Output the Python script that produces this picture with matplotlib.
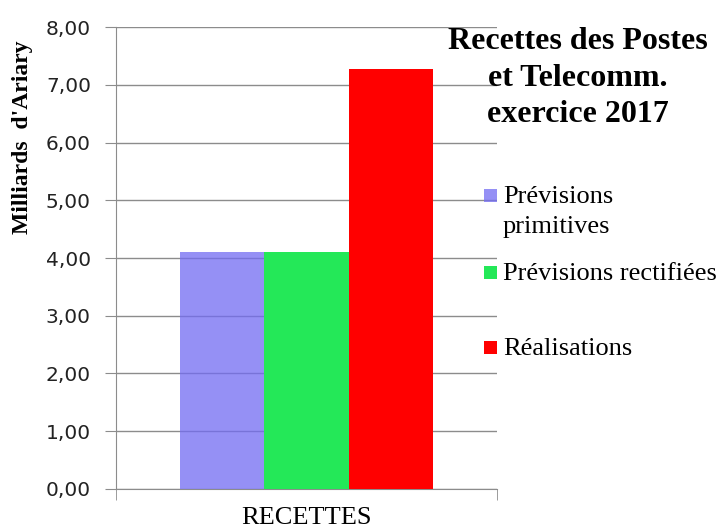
import matplotlib
matplotlib.use("Agg")
import matplotlib.pyplot as plt
from matplotlib.patches import Rectangle
from matplotlib.ticker import FuncFormatter

# data (milliards d'Ariary)
category = "RECETTES"
series = ["Prévisions\nprimitives", "Prévisions rectifiées", "Réalisations"]
values = [4.10, 4.10, 7.28]
colors = ["#726BF2", "#24E858", "#FF0000"]
alphas = [0.75, 1.0, 1.0]
yticks = [0, 1, 2, 3, 4, 5, 6, 7, 8]

serif = ["Liberation Serif", "DejaVu Serif"]
W, H = 720, 532

fig = plt.figure(figsize=(7.2, 5.32), dpi=100)
ax = fig.add_axes([0.161, 0.081, 0.529, 0.868])

width = 0.222
for i, (lab, v, c, a) in enumerate(zip(series, values, colors, alphas)):
    ax.bar((i - 1) * width, v, width=width, color=c, alpha=a, label=lab, zorder=3)

ax.set_xlim(-0.5, 0.5)
ax.set_ylim(0, 8)
ax.set_yticks(yticks)
ax.yaxis.set_major_formatter(FuncFormatter(lambda v, p: f"{v:.2f}".replace(".", ",")))
ax.grid(axis="y", color="#8c8c8c", linewidth=1, zorder=0)
ax.set_axisbelow(True)

ax.set_xticks([0])
ax.set_xticklabels([category], fontsize=19, family=serif)
ax.tick_params(axis="x", length=0, pad=13)
ax.set_xticks([-0.5, 0.5], minor=True)
ax.tick_params(axis="x", which="minor", length=8, color="#8c8c8c")
ax.tick_params(axis="y", length=8, color="#8c8c8c", labelsize=14.5, pad=10)
for lbl in ax.get_yticklabels():
    lbl.set_color("#222222")

for s in ["top", "right"]:
    ax.spines[s].set_visible(False)
for s in ["left", "bottom"]:
    ax.spines[s].set_color("#8c8c8c")

fig.text(0.031, 1 - 137 / H, "Milliards  d'Ariary", rotation=90, ha="center", va="center",
         fontsize=17, fontweight="bold", family=serif)

fig.text(0.802, 1 - 78 / H, "Recettes des Postes\net Telecomm.\nexercice 2017", ha="center", va="center",
         fontsize=23, fontweight="bold", family=serif, linespacing=1.35)

# legend drawn by hand (Excel spacing is uneven, swatch aligned with first line)
leg_y = [195, 272, 347]
for lab, c, a, y in zip(series, colors, alphas, leg_y):
    fig.patches.append(Rectangle((484 / W, 1 - (y + 7) / H), 13 / W, 13 / H, transform=fig.transFigure,
                                 facecolor=c, alpha=a, edgecolor="none", zorder=5))
    fig.text(503 / W, 1 - (y - 9) / H, lab, ha="left", va="top", fontsize=19, family=serif,
             linespacing=1.45)

fig.savefig("out.png", dpi=100)
